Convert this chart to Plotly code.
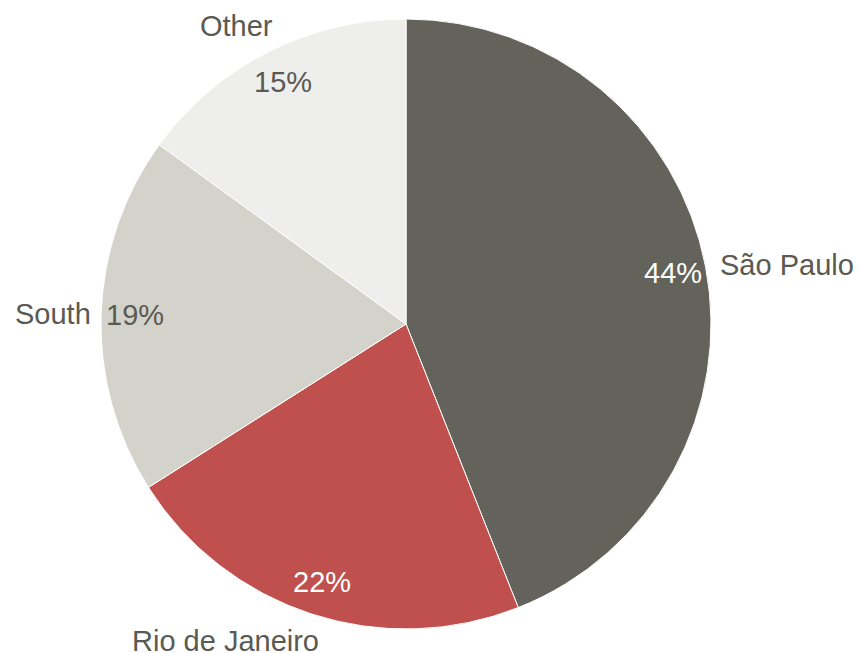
import math
import plotly.graph_objects as go

categories = ["São Paulo", "Rio de Janeiro", "South", "Other"]
values = [44, 22, 19, 15]
slice_colors = ["#63635B", "#C0504D", "#D4D3CB", "#EEEEEC"]
pct_colors = ["#FFFFFF", "#FFFFFF", "#5A5A52", "#5A5A52"]

W, H = 858, 653
cx, cy, R = 406, 324, 305  # pie geometry in pixels (layout)

fig = go.Figure()
fig.add_trace(go.Pie(
    labels=categories, values=values, sort=False, direction="clockwise", rotation=0,
    marker=dict(colors=slice_colors, line=dict(color="#FFFFFF", width=1)),
    textinfo="none", showlegend=False, hoverinfo="label+percent",
    domain=dict(x=[(cx - R) / W, (cx + R) / W], y=[1 - (cy + R) / H, 1 - (cy - R) / H]),
))

total = sum(values)
cum = 0
font_family = "Liberation Sans, Arial, sans-serif"
for cat, v, pc in zip(categories, values, pct_colors):
    mid = (cum + v / 2) / total * 2 * math.pi
    cum += v
    s, c = math.sin(mid), math.cos(mid)
    # percentage label inside near the edge
    px, py = cx + 0.89 * R * s, cy - 0.89 * R * c
    fig.add_annotation(x=px / W, y=1 - py / H, xref="paper", yref="paper",
                       text=f"{round(v / total * 100)}%", showarrow=False,
                       font=dict(size=29, color=pc, family=font_family),
                       xanchor="center", yanchor="middle")
    # category label outside
    lx, ly = cx + 1.03 * R * s, cy - 1.03 * R * c
    xa = "left" if s > 0 else "right"
    if c > 0.5:
        ya = "bottom"
    elif c < -0.5:
        ya = "top"
    else:
        ya = "middle"
    if ya != "middle":
        lx += 12
    elif s < 0:
        lx += 1
    else:
        lx += 3
    fig.add_annotation(x=lx / W, y=1 - ly / H, xref="paper", yref="paper",
                       text=cat, showarrow=False,
                       font=dict(size=29, color="#5A5A52", family=font_family),
                       xanchor=xa, yanchor=ya)

fig.update_layout(
    width=W, height=H, margin=dict(l=0, r=0, t=0, b=0),
    paper_bgcolor="#FFFFFF", plot_bgcolor="#FFFFFF",
)
fig.write_html("out.html", config={"displayModeBar": False},
               post_script="document.body.style.margin='0px';")
